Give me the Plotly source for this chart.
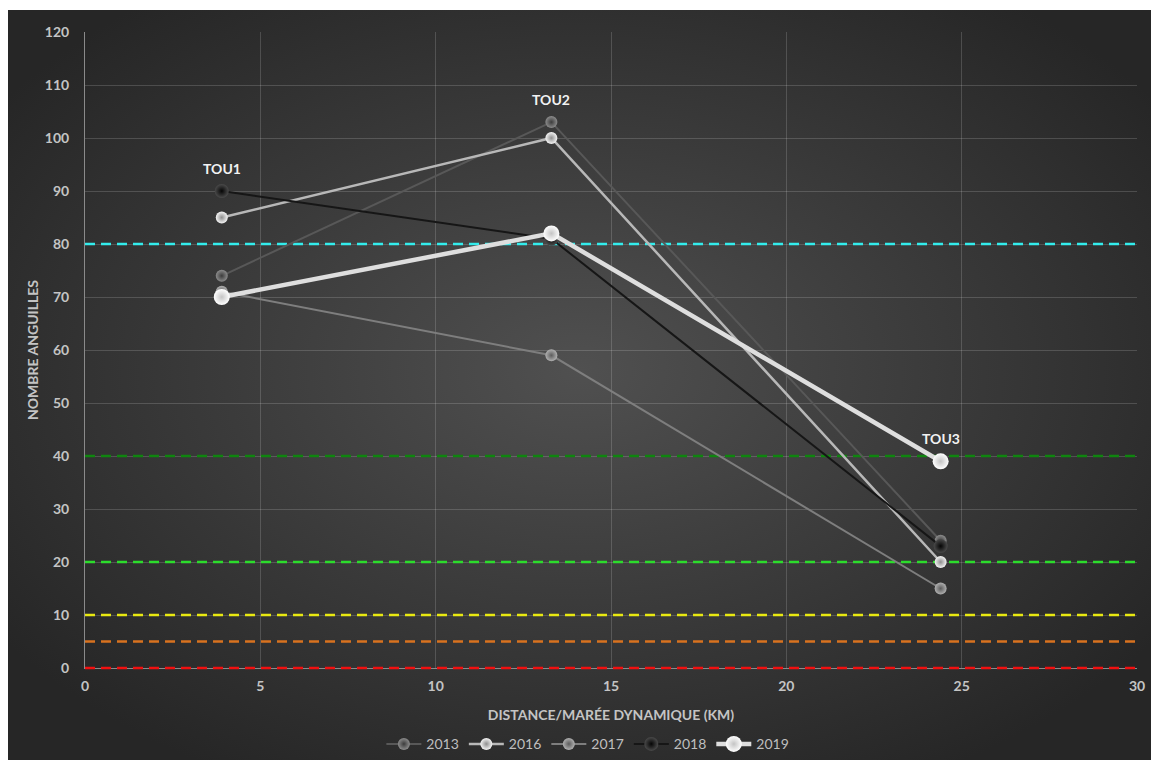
import base64
import plotly.graph_objects as go

# Station positions along the estuary (km from the tidal limit)
stations = ["TOU1", "TOU2", "TOU3"]
distance_km = [3.9, 13.3, 24.4]

# Eel counts per station and year
years = ["2013", "2016", "2017", "2018", "2019"]
count_2013 = [74, 103, 24]
count_2016 = [85, 100, 20]
count_2017 = [71, 59, 15]
count_2018 = [90, 81, 23]
count_2019 = [70, 82, 39]

# Threshold levels shown as dashed horizontal lines
threshold_values = [80, 40, 20, 10, 5, 0]
threshold_colors = ["#33ecec", "#0f850f", "#2cdc2c", "#e8e811", "#d8721f", "#f01010"]

x_range = [0, 30]
y_range = [0, 120]

series = {
    "2013": count_2013,
    "2016": count_2016,
    "2017": count_2017,
    "2018": count_2018,
    "2019": count_2019,
}
styles = {
    "2013": dict(line="#585858", width=2, core="#8c8c8c", rim="#3c3c3c", size=12),
    "2016": dict(line="#b8b8b8", width=2.5, core="#f4f4f4", rim="#8e8e8e", size=12),
    "2017": dict(line="#7e7e7e", width=2, core="#b0b0b0", rim="#5c5c5c", size=12),
    "2018": dict(line="#161616", width=2, core="#4a4a4a", rim="#050505", size=14),
    "2019": dict(line="#dedede", width=4.5, core="#ffffff", rim="#c4c4c4", size=16),
}

fig = go.Figure()

# Threshold lines; the one lying on the x axis is drawn as an unclipped shape
# above the axis line, the others as traces beneath the yearly series
for v, c in zip(threshold_values, threshold_colors):
    if v == y_range[0]:
        yp = (v - y_range[0]) / (y_range[1] - y_range[0])
        fig.add_shape(type="line", xref="paper", x0=0, x1=1, yref="paper", y0=yp, y1=yp,
                      line=dict(color=c, width=2.5, dash="10px,6px"), layer="above")
    else:
        fig.add_trace(go.Scatter(
            x=x_range, y=[v, v], mode="lines", showlegend=False, hoverinfo="skip",
            line=dict(color=c, width=2.5, dash="10px,6px"),
        ))

for y in years:
    s = styles[y]
    fig.add_trace(go.Scatter(
        x=distance_km, y=series[y], name=y, mode="lines+markers",
        line=dict(color=s["line"], width=s["width"]),
        marker=dict(size=s["size"], color=s["core"],
                    gradient=dict(type="radial", color=s["rim"]),
                    line=dict(width=0)),
    ))

# Station labels above the highest count at each station
all_counts = list(zip(*series.values()))
for name, xk, vals in zip(stations, distance_km, all_counts):
    fig.add_annotation(x=xk, y=max(vals), text="<b>%s</b>" % name, showarrow=False,
                       yshift=23, font=dict(size=14, color="#f2f2f2",
                                            family="Lato, Open Sans, sans-serif"))

# Radial shading behind the chart
svg = (
    '<svg xmlns="http://www.w3.org/2000/svg" width="1143" height="750" '
    'preserveAspectRatio="none">'
    '<defs><radialGradient id="g" cx="0.5" cy="0.48" r="0.62">'
    '<stop offset="0" stop-color="#505050"/>'
    '<stop offset="1" stop-color="#262626"/>'
    '</radialGradient></defs>'
    '<rect width="1143" height="750" fill="url(#g)"/></svg>'
)
bg = "data:image/svg+xml;base64," + base64.b64encode(svg.encode()).decode()

W, H = 1151, 760
ml, mr, mt, mb = 85, 14, 32, 92
pw, ph = W - ml - mr, H - mt - mb
fig.add_layout_image(
    source=bg, xref="paper", yref="paper",
    x=-(ml - 8) / pw, y=1 + (mt - 10) / ph,
    sizex=(W - 8) / pw, sizey=(H - 10) / ph,
    xanchor="left", yanchor="top", sizing="stretch", layer="below",
)

tick_font = dict(family="Lato, Open Sans, sans-serif", size=14, color="#c4c4c4", weight="bold")
fig.update_layout(
    width=W, height=H,
    margin=dict(l=ml, r=mr, t=mt, b=mb, autoexpand=False),
    paper_bgcolor="#ffffff",
    plot_bgcolor="rgba(0,0,0,0)",
    font=dict(family="Lato, Open Sans, sans-serif", color="#c4c4c4"),
    showlegend=True,
    legend=dict(orientation="h", x=0.478, xanchor="center", y=-0.12, yanchor="middle",
                font=dict(size=14, color="#bfbfbf"), bgcolor="rgba(0,0,0,0)",
                itemwidth=35, tracegroupgap=0),
    xaxis=dict(
        range=x_range, dtick=5, tick0=0, showgrid=True,
        gridcolor="rgba(255,255,255,0.16)", gridwidth=1,
        showline=True, linecolor="#8a8a8a", linewidth=1, zeroline=False,
        layer="below traces",
        ticks="", ticklabelstandoff=5, tickfont=tick_font,
        title=dict(text="<b>DISTANCE/MARÉE DYNAMIQUE (KM)</b>", standoff=17,
                   font=dict(size=14, color="#c4c4c4")),
    ),
    yaxis=dict(
        range=y_range, dtick=10, tick0=0, showgrid=True,
        gridcolor="rgba(255,255,255,0.16)", gridwidth=1,
        showline=True, linecolor="#8a8a8a", linewidth=1, zeroline=False,
        layer="below traces",
        ticks="", ticklabelstandoff=12, tickfont=tick_font,
        title=dict(text="<b>NOMBRE ANGUILLES</b>", standoff=2,
                   font=dict(size=14, color="#c4c4c4")),
    ),
)

fig.write_html("out.html")
